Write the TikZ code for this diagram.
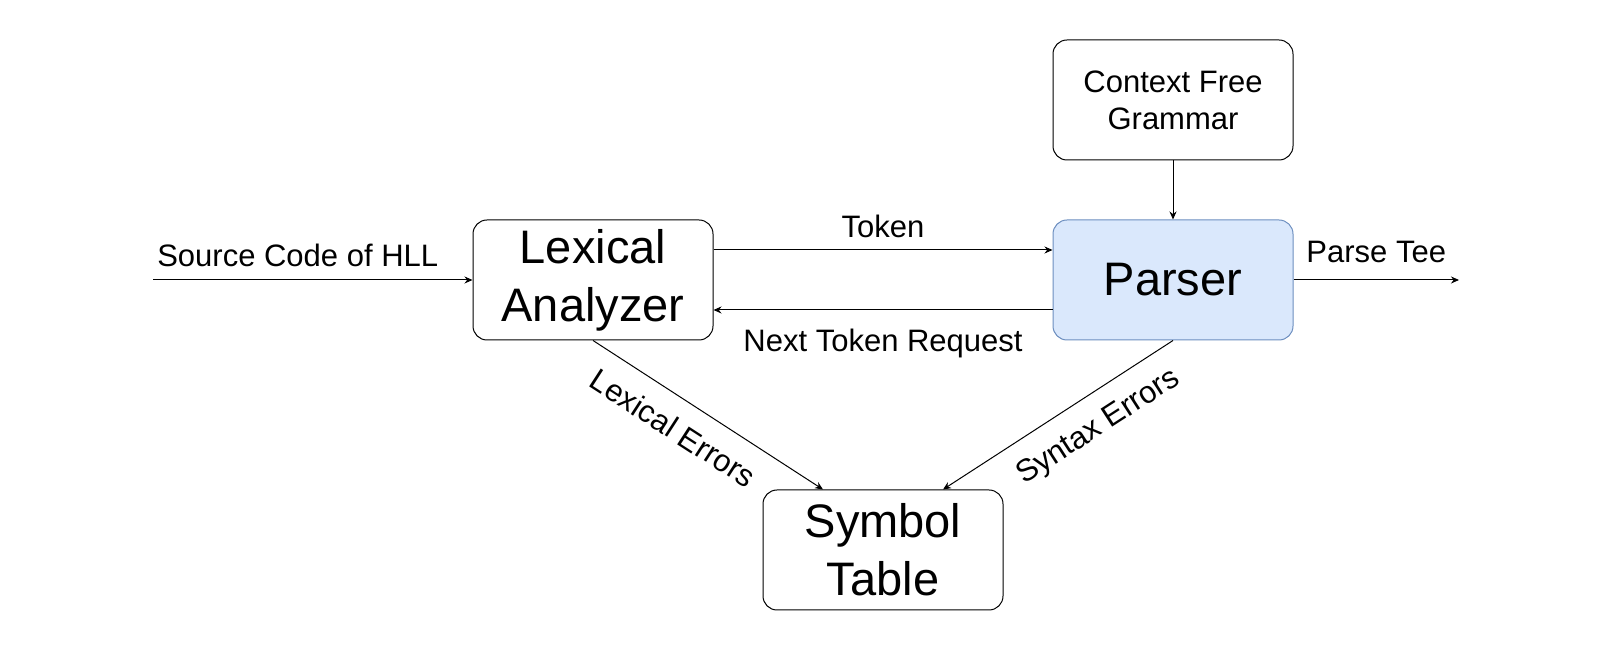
\documentclass[tikz,border=0pt]{standalone}
\usepackage{fontspec}
\setmainfont{Liberation Sans}
\usetikzlibrary{arrows.meta}
\tikzset{
  block/.style={draw, line width=1pt, rounded corners=14pt, minimum width=240pt, minimum height=120pt,
    align=center, font=\fontsize{47}{58}\selectfont},
  smallblock/.style={block, font=\fontsize{31}{37}\selectfont},
  flow/.style={-{Stealth[length=8pt,width=7pt]}, line width=1pt},
  lbl/.style={font=\fontsize{31}{37}\selectfont}
}
\begin{document}
\begin{tikzpicture}[x=1pt, y=1pt]
    \useasboundingbox (0,0) rectangle (1600,655);
    % boxes
    \node[block] (lex) at (593,375) {Lexical\\Analyzer};
    \node[block, fill={rgb,255:red,218;green,232;blue,252}, draw={rgb,255:red,108;green,142;blue,191}] (parser) at (1173,375) {Parser};
    \node[smallblock] (cfg) at (1173,555) {Context Free\\Grammar};
    \node[block] (sym) at (883,105) {Symbol\\Table};
    \coordinate (src) at (153,375);
    \coordinate (tree) at (1459,375);
    % arrows
    \draw[flow] (src) -- node[lbl, above, xshift=-15pt, yshift=9pt] {Source Code of HLL} (lex);
    \draw[flow] ([yshift=30pt]lex.east) -- node[lbl, above, yshift=8pt] {Token} ([yshift=30pt]parser.west);
    \draw[flow] ([yshift=-30pt]parser.west) -- node[lbl, below, yshift=-15pt] {Next Token Request} ([yshift=-30pt]lex.east);
    \draw[flow] (parser) -- node[lbl, above, yshift=13pt] {Parse Tee} (tree);
    \draw[flow] (cfg) -- (parser);
    \draw[flow] (lex.south) -- node[lbl, sloped, below, pos=.42, inner sep=18pt] {Lexical Errors} ([xshift=-60pt]sym.north);
    \draw[flow] (parser.south) -- node[lbl, sloped, below, pos=.40, inner sep=18pt] {Syntax Errors} ([xshift=60pt]sym.north);
\end{tikzpicture}
\end{document}
